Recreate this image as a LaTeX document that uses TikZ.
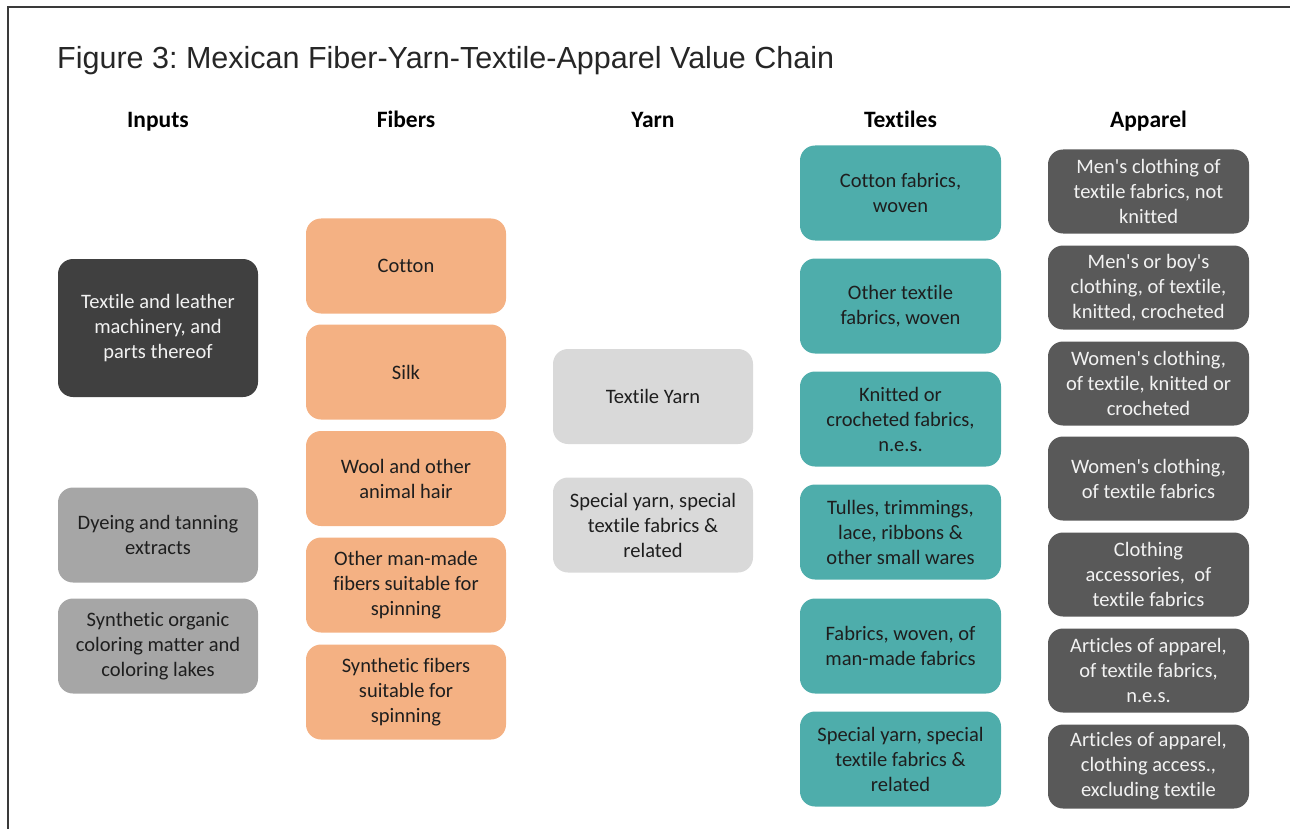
\documentclass[tikz,border=0pt]{standalone}
\usepackage{fontspec}
\setmainfont{Carlito}[Ligatures={NoCommon}]
\newfontfamily\titlefont{Liberation Sans}
\definecolor{machfill}{HTML}{404040}
\definecolor{dyefill}{HTML}{A6A6A6}
\definecolor{fiberfill}{HTML}{F4B183}
\definecolor{yarnfill}{HTML}{D9D9D9}
\definecolor{textilefill}{HTML}{4EADAB}
\definecolor{apparelfill}{HTML}{595959}
\definecolor{lighttext}{HTML}{F2F2F2}
\definecolor{darktext}{HTML}{1E1E1E}
\definecolor{framecol}{HTML}{3A3A3A}
\newcommand{\apos}{\textquotesingle}
\tikzset{
  box/.style={rounded corners=15pt, inner sep=0pt, align=center,
    minimum width=200pt, font=\fontsize{20.5}{25}\selectfont},
  tallbox/.style={box, minimum height=95pt},
  shortbox/.style={box, minimum height=84pt, minimum width=201pt},
  inputdark/.style={box, minimum height=138pt, fill=machfill, text=lighttext},
  inputgray/.style={tallbox, fill=dyefill, text=darktext},
  fiberbox/.style={tallbox, fill=fiberfill, text=darktext},
  yarnbox/.style={tallbox, fill=yarnfill, text=darktext},
  textilebox/.style={tallbox, minimum width=201pt, fill=textilefill, text=darktext},
  apparelbox/.style={shortbox, fill=apparelfill, text=lighttext},
  colhead/.style={anchor=base, inner sep=0pt, font=\fontsize{23.5}{26}\selectfont\bfseries, text=black},
}
\begin{document}
\begin{tikzpicture}[x=1pt, y=-1pt]
  \useasboundingbox (0,0) rectangle (1290,829);
  % frame: left and top rules
  \coordinate (fbl) at (8,829);
  \coordinate (ftl) at (8,7);
  \coordinate (ftr) at (1290,7);
  \draw[framecol, line width=1.5pt] (fbl) -- (ftl) -- (ftr);

  % title
  \node[anchor=base west, inner sep=0pt, font=\titlefont\fontsize{30.5}{33}\selectfont\frenchspacing, text=black!85]
    (title) at (57,69) {Figure 3: Mexican Fiber-Yarn-Textile-Apparel Value Chain};

  % column headings
  \node[colhead] (hInputs)   at (158,128)   {Inputs};
  \node[colhead] (hFibers)   at (406,128)   {Fibers};
  \node[colhead] (hYarn)     at (653,128)   {Yarn};
  \node[colhead] (hTextiles) at (900.5,128) {Textiles};
  \node[colhead] (hApparel)  at (1148.5,128){Apparel};

  % inputs
  \node[inputdark] (mach)  at (158,328)   {Textile and leather\\machinery, and\\parts thereof};
  \node[inputgray] (dye)   at (158,535) {Dyeing and tanning\\extracts};
  \node[inputgray] (color) at (158,646) {Synthetic organic\\coloring matter and\\coloring lakes};

  % fibers
  \node[fiberbox] (cotton)  at (406,266) {Cotton};
  \node[fiberbox] (silk)    at (406,372) {Silk};
  \node[fiberbox] (wool)    at (406,478.5) {Wool and other\\animal hair};
  \node[fiberbox] (manmade) at (406,585) {Other man-made\\fibers suitable for\\spinning};
  \node[fiberbox] (synfib)  at (406,692) {Synthetic fibers\\suitable for\\spinning};

  % yarn
  \node[yarnbox] (tyarn) at (653,396.5) {Textile Yarn};
  \node[yarnbox] (syarn) at (653,525) {Special yarn, special\\textile fabrics \&\\related};

  % textiles
  \node[textilebox] (tcotton) at (900.5,193) {Cotton fabrics,\\woven};
  \node[textilebox] (tother)  at (900.5,306) {Other textile\\fabrics, woven};
  \node[textilebox] (tknit)   at (900.5,419) {Knitted or\\crocheted fabrics,\\n.e.s.};
  \node[textilebox] (ttulle)  at (900.5,532) {Tulles, trimmings,\\lace, ribbons \&\\other small wares};
  \node[textilebox] (tman)    at (900.5,646) {Fabrics, woven, of\\man-made fabrics};
  \node[textilebox] (tspec)   at (900.5,759) {Special yarn, special\\textile fabrics \&\\related};

  % apparel
  \node[apparelbox] (amen)    at (1148.5,191.5) {Men\apos{}s clothing of\\textile fabrics, not\\knitted};
  \node[apparelbox] (aboy)    at (1148.5,287.5) {Men\apos{}s or boy\apos{}s\\clothing, of textile,\\knitted, crocheted};
  \node[apparelbox] (awknit)  at (1148.5,383.5) {Women\apos{}s clothing,\\of textile, knitted or\\crocheted};
  \node[apparelbox] (awfab)   at (1148.5,478.5) {Women\apos{}s clothing,\\of textile fabrics};
  \node[apparelbox] (aacc)    at (1148.5,574.5) {Clothing\\accessories,\ \ of\\textile fabrics};
  \node[apparelbox] (anes)    at (1148.5,670.5) {Articles of apparel,\\of textile fabrics,\\n.e.s.};
  \node[apparelbox] (aexcl)   at (1148.5,766.5) {Articles of apparel,\\clothing access.,\\excluding textile};
\end{tikzpicture}
\end{document}
